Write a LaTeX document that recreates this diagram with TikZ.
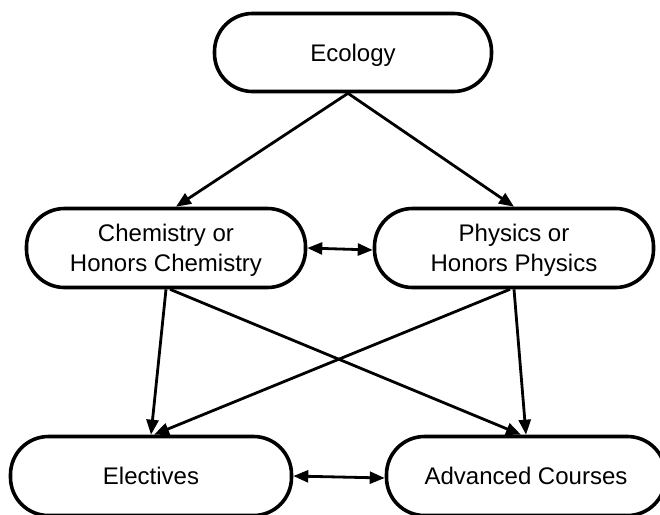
\documentclass[tikz,border=0pt]{standalone}
\usepackage{fontspec}
\setmainfont{Liberation Sans}
\usetikzlibrary{arrows.meta}
\begin{document}
\begin{tikzpicture}[x=1pt,y=-1pt,
  box/.style={draw=black, line width=3.6pt, rounded corners=38pt, fill=white,
    minimum width=279pt, minimum height=79pt, inner sep=0pt, align=center,
    text depth=0pt, font=\fontsize{24}{29.5}\selectfont},
  conn/.style={line width=2.8pt, -{Triangle[length=15pt,width=12pt]}},
  bconn/.style={line width=2.8pt, {Triangle[length=15pt,width=12pt]}-{Triangle[length=15pt,width=12pt]}}]
\useasboundingbox (0,0) rectangle (660,514);
\node[box, minimum width=277pt, minimum height=78pt] (eco) at (353,52.5) {Ecology};
\node[box] (chem) at (166,248) {Chemistry or\\Honors Chemistry};
\node[box] (phys) at (514,248) {Physics or\\Honors Physics};
\node[box, minimum width=281pt] (elec) at (151,476) {Electives};
\node[box] (adv) at (526,476) {Advanced Courses};
\draw[conn] ([xshift=-5pt]eco.south) -- ([xshift=10pt]chem.north);
\draw[conn] ([xshift=-5pt]eco.south) -- (phys.north);
\draw[bconn] (chem.east) -- ([yshift=-2pt]phys.west);
\draw[conn] (chem.south) -- (elec.north);
\draw[conn] ([xshift=4pt]chem.south) -- ([xshift=-5pt]adv.north);
\draw[conn] (phys.south) -- (adv.north);
\draw[conn] ([xshift=-4pt]phys.south) -- ([xshift=3pt]elec.north);
\draw[bconn] (elec.east) -- ([yshift=-2pt]adv.west);
\end{tikzpicture}
\end{document}
